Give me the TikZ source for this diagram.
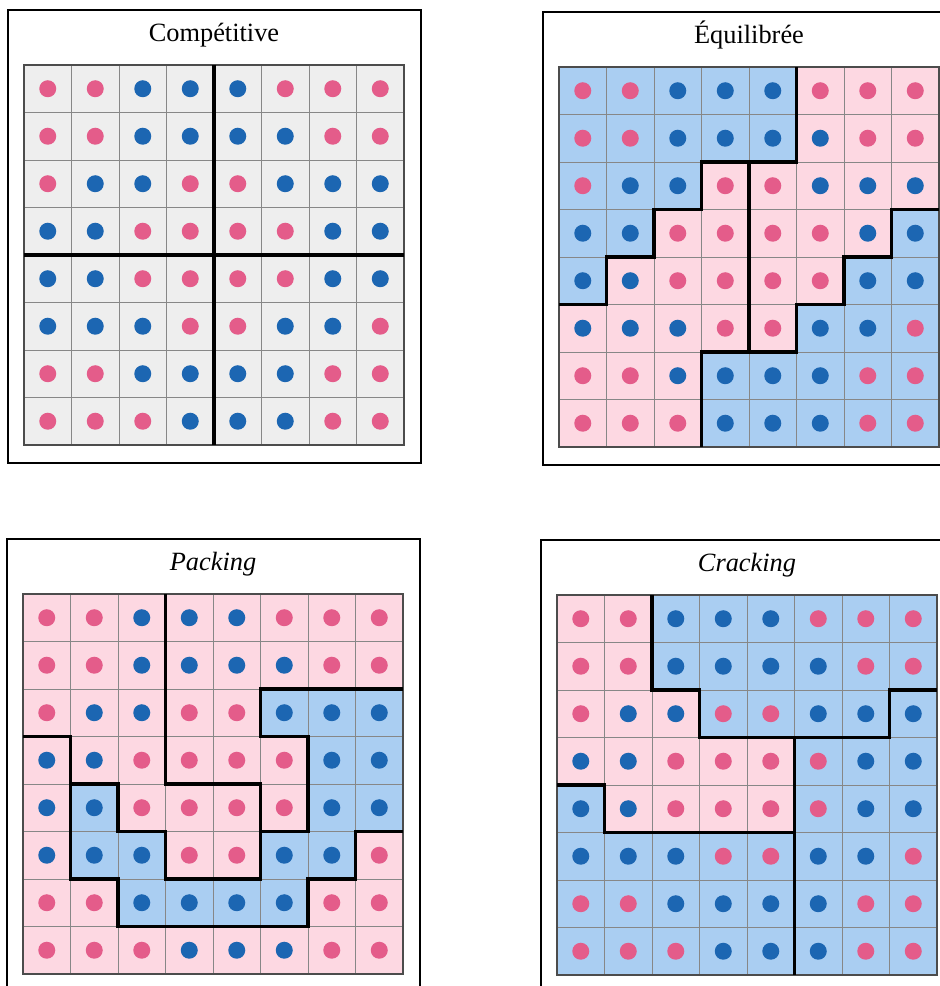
\documentclass[tikz,border=0pt]{standalone}
\usepackage{fontspec}
\setmainfont{Liberation Serif}
\usepackage{tikz}
\definecolor{dot0}{RGB}{228, 92, 138}
\definecolor{dot1}{RGB}{28, 102, 178}
\definecolor{cell0}{RGB}{253, 216, 226}
\definecolor{cell1}{RGB}{170, 206, 242}
\definecolor{cellgray}{RGB}{238, 238, 238}
\definecolor{gridgray}{RGB}{135, 135, 135}

% voters, rows from the top (0 = pink, 1 = blue)
\newcommand{\votermap}{{0,0,1,1,1,0,0,0},{0,0,1,1,1,1,0,0},{0,1,1,0,0,1,1,1},{1,1,0,0,0,0,1,1},{1,1,0,0,0,0,1,1},{1,1,1,0,0,1,1,0},{0,0,1,1,1,1,0,0},{0,0,0,1,1,1,0,0}}
% district colour of each cell
\newcommand{\equimap}{{1,1,1,1,1,0,0,0},{1,1,1,1,1,0,0,0},{1,1,1,0,0,0,0,0},{1,1,0,0,0,0,0,1},{1,0,0,0,0,0,1,1},{0,0,0,0,0,1,1,1},{0,0,0,1,1,1,1,1},{0,0,0,1,1,1,1,1}}
\newcommand{\packmap}{{0,0,0,0,0,0,0,0},{0,0,0,0,0,0,0,0},{0,0,0,0,0,1,1,1},{0,0,0,0,0,0,1,1},{0,1,0,0,0,0,1,1},{0,1,1,0,0,1,1,0},{0,0,1,1,1,1,0,0},{0,0,0,0,0,0,0,0}}
\newcommand{\crackmap}{{0,0,1,1,1,1,1,1},{0,0,1,1,1,1,1,1},{0,0,0,1,1,1,1,1},{0,0,0,0,0,1,1,1},{1,0,0,0,0,1,1,1},{1,1,1,1,1,1,1,1},{1,1,1,1,1,1,1,1},{1,1,1,1,1,1,1,1}}

\begin{document}
\begin{tikzpicture}[
        box/.style={draw=gridgray, minimum size=0.95cm, inner sep=0pt, line width=0.4pt},
        panel/.style={draw, line width=0.8pt},
        border/.style={draw=black!70, line width=0.8pt},
        district/.style={line width=2.2pt, line cap=butt, line join=miter},
        title/.style={anchor=base, font=\fontsize{15}{18}\selectfont},
        gridunits/.style={x=0.95cm, y=-0.95cm},
    ]
    \useasboundingbox (0,0) rectangle (18.8,19.72);
    \clip (0,0) rectangle (18.8,19.72);

    % Competitive: four square districts
    \begin{scope}[shift={(0.48,18.42)}, gridunits]
        \draw[panel] (-0.34,-1.16) rectangle (8.36,8.38);
        \foreach \j in {1,...,8} {
            \foreach \i in {1,...,8} {
                \node[box, fill=cellgray] (comp-\i-\j) at (\i-0.5,\j-0.5) {};
            }
        }
        \foreach \r [count=\j] in \votermap {
            \foreach \v [count=\i] in \r {
                \fill[dot\v] (\i-0.5,\j-0.5) circle[radius=0.17cm];
            }
        }
        \draw[border] (0,0) rectangle (8,8);
        \draw[district] (4,0) -- (4,8) (0,4) -- (8,4);
        \node[title] (comp) at (4,-0.5) {Compétitive};
    \end{scope}

    % Balanced
    \begin{scope}[shift={(11.18,18.38)}, gridunits]
        \draw[panel] (-0.34,-1.16) rectangle (8.36,8.38);
        \foreach \r [count=\j] in \equimap {
            \foreach \v [count=\i] in \r {
                \node[box, fill=cell\v] (equi-\i-\j) at (\i-0.5,\j-0.5) {};
            }
        }
        \foreach \r [count=\j] in \votermap {
            \foreach \v [count=\i] in \r {
                \fill[dot\v] (\i-0.5,\j-0.5) circle[radius=0.17cm];
            }
        }
        \draw[border] (0,0) rectangle (8,8);
        \draw[district] (5,0) -- (5,2) -- (3,2) -- (3,3) -- (2,3) -- (2,4) -- (1,4) -- (1,5) -- (0,5);
        \draw[district] (4,2) -- (4,6);
        \draw[district] (3,8) -- (3,6) -- (5,6) -- (5,5) -- (6,5) -- (6,4) -- (7,4) -- (7,3) -- (8,3);
        \node[title] (equi) at (4,-0.5) {Équilibrée};
    \end{scope}

    % Packing
    \begin{scope}[shift={(0.46,7.84)}, gridunits]
        \draw[panel] (-0.34,-1.16) rectangle (8.36,8.38);
        \foreach \r [count=\j] in \packmap {
            \foreach \v [count=\i] in \r {
                \node[box, fill=cell\v] (pack-\i-\j) at (\i-0.5,\j-0.5) {};
            }
        }
        \foreach \r [count=\j] in \votermap {
            \foreach \v [count=\i] in \r {
                \fill[dot\v] (\i-0.5,\j-0.5) circle[radius=0.17cm];
            }
        }
        \draw[border] (0,0) rectangle (8,8);
        \draw[district] (0,3) -- (1,3) -- (1,6) -- (2,6) -- (2,7) -- (6,7) -- (6,6) -- (7,6) -- (7,5) -- (8,5);
        \draw[district] (3,0) -- (3,4) -- (5,4) -- (5,6) -- (3,6) -- (3,5) -- (2,5) -- (2,4) -- (1,4);
        \draw[district] (5,5) -- (6,5) -- (6,3) -- (5,3) -- (5,2) -- (8,2);
        \node[title] (pack) at (4,-0.5) {\itshape Packing};
    \end{scope}

    % Cracking
    \begin{scope}[shift={(11.14,7.82)}, gridunits]
        \draw[panel] (-0.34,-1.16) rectangle (8.36,8.38);
        \foreach \r [count=\j] in \crackmap {
            \foreach \v [count=\i] in \r {
                \node[box, fill=cell\v] (crack-\i-\j) at (\i-0.5,\j-0.5) {};
            }
        }
        \foreach \r [count=\j] in \votermap {
            \foreach \v [count=\i] in \r {
                \fill[dot\v] (\i-0.5,\j-0.5) circle[radius=0.17cm];
            }
        }
        \draw[border] (0,0) rectangle (8,8);
        \draw[district] (2,0) -- (2,2) -- (3,2) -- (3,3) -- (7,3) -- (7,2) -- (8,2);
        \draw[district] (5,3) -- (5,8);
        \draw[district] (0,4) -- (1,4) -- (1,5) -- (5,5);
        \node[title] (crack) at (4,-0.5) {\itshape Cracking};
    \end{scope}
\end{tikzpicture}
\end{document}
